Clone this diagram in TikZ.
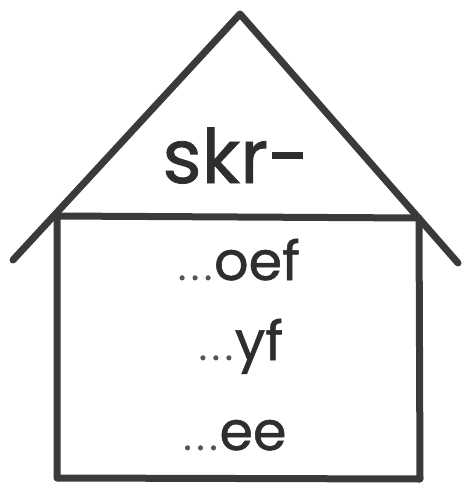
\documentclass[tikz,border=0pt]{standalone}
\usepackage{fontspec}
\setmainfont{Poppins}[FakeBold=1]
\definecolor{inkline}{HTML}{3A3A3A}
\definecolor{inktext}{HTML}{2E2E2E}
\definecolor{dotgray}{HTML}{555555}
\tikzset{
  houseline/.style={draw=inkline, line width=7pt, line cap=round, line join=round},
  roofword/.style={inner sep=0pt, anchor=base, text=inktext, font=\fontsize{75}{80}\selectfont},
  ending/.style={inner sep=0pt, anchor=base, text=inktext, font=\fontsize{54}{58}\selectfont}
}
\newcommand{\dotsgray}{\textcolor{dotgray}{\fontsize{38}{42}\selectfont.\kern5pt.\kern5pt.\kern2pt}}
\begin{document}
\begin{tikzpicture}[x=1pt,y=-1pt]
\useasboundingbox (0,0) rectangle (470,492);
\coordinate (apex) at (240,14);
\coordinate (roofL) at (13,260);
\coordinate (roofR) at (458,263);
\coordinate (eaveL) at (57,216);
\coordinate (eaveR) at (419,218);
\coordinate (baseL) at (57,478);
\coordinate (baseR) at (420,479);
\draw[houseline] (roofL) -- (apex) -- (roofR);
\draw[houseline] (eaveL) -- (eaveR);
\draw[houseline, line cap=butt] (eaveL) -- (baseL) -- (baseR) -- (eaveR);
\node[roofword] (onset) at (236,183) {skr-};
\node[ending] (e1) at (239,280) {\dotsgray oef};
\node[ending] (e2) at (241,360) {\dotsgray yf};
\node[ending] (e3) at (235,450) {\dotsgray ee};
\end{tikzpicture}
\end{document}
